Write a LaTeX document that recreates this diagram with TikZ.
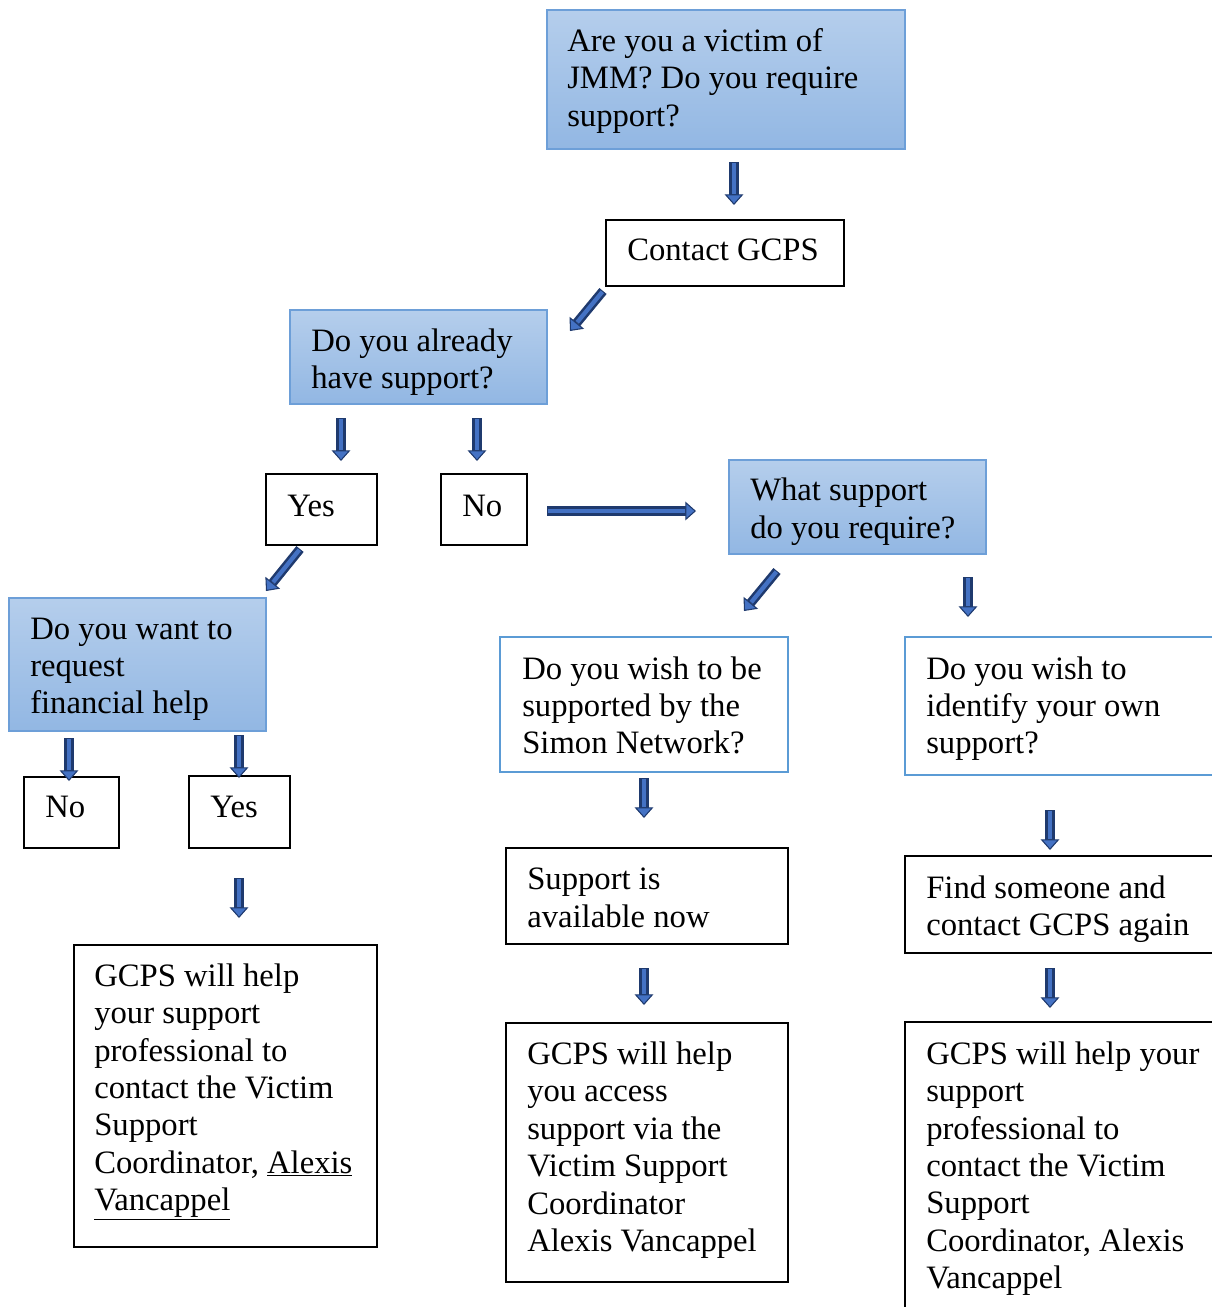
\documentclass[tikz,border=0pt]{standalone}
\usepackage{fontspec}
\setmainfont{Liberation Serif}
\usetikzlibrary{arrows.meta,fit}
\definecolor{gtop}{HTML}{B5CEEC}
\definecolor{gbot}{HTML}{92B7E3}
\definecolor{gline}{HTML}{6D9FD8}
\definecolor{bline}{HTML}{5B9BD5}
\definecolor{adark}{HTML}{1F3A6E}
\definecolor{amid}{HTML}{4472C4}
\tikzset{
  boxbase/.style={inner sep=0pt, outer sep=0pt},
  gradbox/.style={boxbase, draw=gline, line width=1.2pt, top color=gtop, bottom color=gbot},
  plainbox/.style={boxbase, draw=black, line width=0.9pt, fill=white},
  bluebox/.style={boxbase, draw=bline, line width=2.2pt, fill=white},
  txt/.style={anchor=west, align=left, inner sep=0pt, font=\fontsize{24.5}{28.1}\selectfont},
  blockarrow/.style={draw=adark, line width=7pt,
    -{Triangle[width=14pt,length=8pt,line width=0.8pt,fill=amid]},
    postaction={draw=amid, line width=3.2pt, shorten >=8.5pt, shorten <=0.8pt, -}},
}
\begin{document}
\begin{tikzpicture}[x=0.75pt,y=-0.75pt]
\useasboundingbox (0,0) rectangle (1212,1307);
\fill[white] (0,0) rectangle (1212,1307);

% boxes
\node[gradbox, fit={(547,10) (905,149)}] (q1) {};
\node[plainbox, fit={(606,220) (844,286)}] (contact) {};
\node[gradbox, fit={(290,310) (547,404)}] (already) {};
\node[plainbox, fit={(266,474) (377,545)}] (yes1) {};
\node[plainbox, fit={(441,474) (527,545)}] (no1) {};
\node[gradbox, fit={(729,460) (986,554)}] (what) {};
\node[gradbox, fit={(9,598) (266,731)}] (fin) {};
\node[plainbox, fit={(24,777) (119,848)}] (no2) {};
\node[plainbox, fit={(189,776) (290,848)}] (yes2) {};
\node[plainbox, fit={(74,945) (377,1247)}] (help1) {};
\node[bluebox, fit={(500,637) (788,772)}] (simon) {};
\node[bluebox, fit={(905,637) (1222,775)}] (own) {};
\node[plainbox, fit={(506,848) (788,944)}] (avail) {};
\node[plainbox, fit={(905,856) (1222,953)}] (find) {};
\node[plainbox, fit={(506,1023) (788,1282)}] (help2) {};
\node[plainbox, fit={(905,1022) (1222,1318)}] (help3) {};

% texts
\node[txt] (q1t) at (567,81.5) {\strut Are you a victim of\\JMM? Do you require\\support?\strut};
\node[txt] (contactt) at (627,253) {\strut Contact GCPS};
\node[txt] (alreadyt) at (311,362.5) {\strut Do you already\\have support?\strut};
\node[txt] (yes1t) at (287,508.5) {\strut Yes};
\node[txt] (no1t) at (462,508.5) {\strut No};
\node[txt] (whatt) at (750,512) {\strut What support\\do you require?\strut};
\node[txt] (fint) at (30,669) {\strut Do you want to\\request\\financial help\strut};
\node[txt] (no2t) at (45,810) {\strut No};
\node[txt] (yes2t) at (210,810) {\strut Yes};
\node[txt] (help1t) at (94,1091) {\strut GCPS will help\\your support\\professional to\\contact the Victim\\Support\\Coordinator, \underline{Alexis}\\\underline{Vancappel}\strut};
\node[txt] (simont) at (522,709) {\strut Do you wish to be\\supported by the\\Simon Network?\strut};
\node[txt] (ownt) at (926,709) {\strut Do you wish to\\identify your own\\support?\strut};
\node[txt] (availt) at (527,901) {\strut Support is\\available now\strut};
\node[txt] (findt) at (926,909.5) {\strut Find someone and\\contact GCPS again\strut};
\node[txt] (help2t) at (527,1150.5) {\strut GCPS will help\\you access\\support via the\\Victim Support\\Coordinator\\Alexis Vancappel\strut};
\node[txt] (help3t) at (926,1169) {\strut GCPS will help your\\support\\professional to\\contact the Victim\\Support\\Coordinator, Alexis\\Vancappel\strut};

% arrow end points
\coordinate (a1s) at (734,162);  \coordinate (a1e) at (734,205);
\coordinate (a2s) at (603,291);  \coordinate (a2e) at (570,331);
\coordinate (a3s) at (341,418);  \coordinate (a3e) at (341,461);
\coordinate (a4s) at (477,418);  \coordinate (a4e) at (477,461);
\coordinate (a5s) at (547,511);  \coordinate (a5e) at (696,511);
\coordinate (a6s) at (300,549);  \coordinate (a6e) at (266,591);
\coordinate (a7s) at (777,571);  \coordinate (a7e) at (744,611);
\coordinate (a8s) at (968,577);  \coordinate (a8e) at (968,617);
\coordinate (a9s) at (69,738);   \coordinate (a9e) at (69,781);
\coordinate (a10s) at (239,735); \coordinate (a10e) at (239,778);
\coordinate (a11s) at (239,878); \coordinate (a11e) at (239,918);
\coordinate (a12s) at (644,778); \coordinate (a12e) at (644,818);
\coordinate (a13s) at (1050,810); \coordinate (a13e) at (1050,850);
\coordinate (a14s) at (644,968); \coordinate (a14e) at (644,1005);
\coordinate (a15s) at (1050,968); \coordinate (a15e) at (1050,1008);

\foreach \i in {1,...,15} {
  \draw[blockarrow] (a\i s) -- (a\i e);
}
\end{tikzpicture}
\end{document}
